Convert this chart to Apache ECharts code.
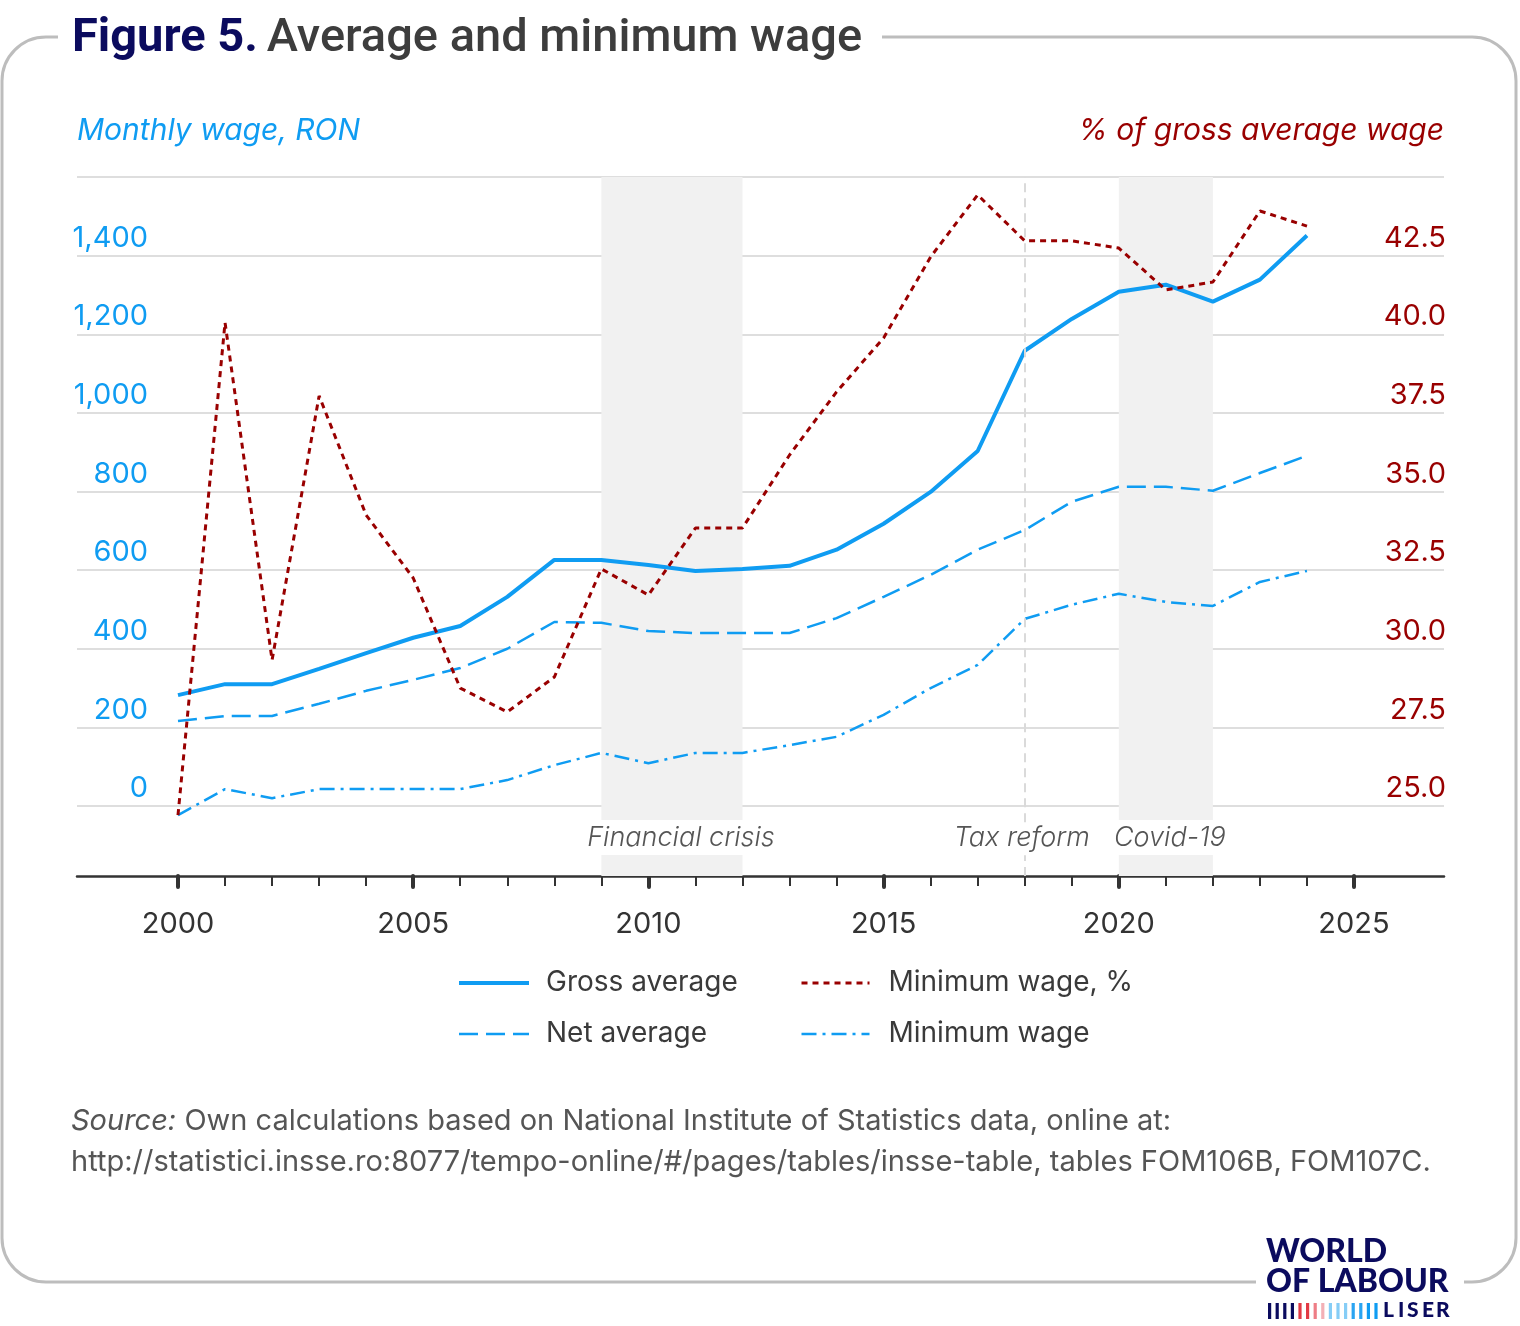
<!DOCTYPE html>
<html><head><meta charset="utf-8">
<script src="https://cdn.jsdelivr.net/npm/echarts@6/dist/echarts.min.js"></script>
<style>html,body{margin:0;padding:0;background:#fff}#c{width:1520px;height:1326px}</style>
</head><body><div id="c"></div>
<script>
// ---------- DATA ----------
const years = [2000,2001,2002,2003,2004,2005,2006,2007,2008,2009,2010,2011,2012,2013,2014,2015,2016,2017,2018,2019,2020,2021,2022,2023,2024];
const grossAverage = [282,310,310,349,389,428,458,532,626,626,613,598,603,611,652,718,799,903,1158,1239,1308,1326,1283,1339,1451];
const netAverage = [216,229,229,260,293,321,351,400,468,466,445,440,440,440,478,532,588,652,702,774,812,812,802,847,891];
const minimumWage = [-23,43,20,43,43,43,43,66,104,135,109,135,135,155,176,232,300,359,476,512,540,519,509,570,598];
const minimumWagePct = [24.71,40.37,29.64,38.04,34.25,32.25,28.75,27.99,29.10,32.54,31.71,33.84,33.84,36.16,38.17,39.88,42.46,44.43,42.97,42.97,42.74,41.41,41.66,43.92,43.44];

const leftGridValues = [0,200,400,600,800,1000,1200,1400,1600];
const leftLabelValues = [0,200,400,600,800,1000,1200,1400];
const rightLabelValues = [25,27.5,30,32.5,35,37.5,40,42.5];
const majorYears = [2000,2005,2010,2015,2020,2025];
const minorYears = [2001,2002,2003,2004,2006,2007,2008,2009,2011,2012,2013,2014,2016,2017,2018,2019,2021,2022,2023,2024];

const shadedPeriods = [
  {name:'Financial crisis', from:2009, to:2012},
  {name:'Covid-19', from:2020, to:2022}
];
const taxReform = {name:'Tax reform', year:2018};

// ---------- STYLE ----------
const BLUE = '#0f9cf2';
const RED = '#990000';
const FONT = 'Inter';
const X_MIN = 1997.853, X_MAX = 2026.913;
const YL_MIN = -178, YL_MAX = 1600;
const YR_MIN = 25 + YL_MIN/80, YR_MAX = 25 + YL_MAX/80;

const STY = {
  'Gross average': {color:BLUE, width:4, type:'solid'},
  'Net average': {color:BLUE, width:2.5, type:[19,8]},
  'Minimum wage': {color:BLUE, width:2.5, type:[15,6,3,6]},
  'Minimum wage, %': {color:RED, width:3, type:[6,5]}
};

const chart = echarts.init(document.getElementById('c'), null, {renderer:'canvas'});

const pairs = arr => years.map((y,i)=>[y, arr[i]]);

const annotLabel = {
  show:true, position:'insideBottom', distance:21,
  color:'#555', fontFamily:FONT, fontStyle:'italic', fontWeight:300, fontSize:27,
  lineHeight:33, backgroundColor:'#fff', padding:[1,4]
};

const legendItem = n => ({name:n, itemStyle:{opacity:0}, lineStyle:Object.assign({}, STY[n])});

// logo bars
const barColors = ['#0b0b5e','#0b0b5e','#0b0b5e','#0b0b5e','#e23a44','#e23a44','#ee7d86','#f3b0b6','#86cdf6','#86cdf6','#86cdf6','#2aa4f2','#2aa4f2','#0f9cf2','#0f9cf2'];
const logoBars = barColors.map((c,i)=>({type:'rect', shape:{x:1268+i*7.6, y:1303, width:3.2, height:16}, style:{fill:c}}));
const liserX = [1383,1398,1407,1422,1436];
const liser = ['L','I','S','E','R'].map((ch,i)=>({type:'text', left:liserX[i], top:1300, style:{text:ch, font:'900 21px Lato', fill:'#0b0b5e'}}));

const option = {
  animation:false,
  backgroundColor:'#fff',
  grid:{left:77, right:76, top:177, bottom:450, containLabel:false},
  title:[
    {text:'Monthly wage, RON', left:72, top:111, textStyle:{color:BLUE, fontFamily:FONT, fontStyle:'italic', fontWeight:400, fontSize:30}},
    {text:'% of gross average wage', right:71, top:111, textStyle:{color:RED, fontFamily:FONT, fontStyle:'italic', fontWeight:400, fontSize:30}}
  ],
  legend:[
    {orient:'vertical', left:452, top:964, itemWidth:70, itemHeight:14, itemGap:23,
     data:['Gross average','Net average'].map(legendItem),
     textStyle:{fontFamily:FONT, fontSize:28, color:'#3a3a3a', padding:[0,0,0,12]}},
    {orient:'vertical', left:795, top:964, itemWidth:68, itemHeight:14, itemGap:23,
     data:['Minimum wage, %','Minimum wage'].map(legendItem),
     textStyle:{fontFamily:FONT, fontSize:28, color:'#3a3a3a', padding:[0,0,0,14]}}
  ],
  xAxis:[
    {type:'value', min:X_MIN, max:X_MAX, position:'bottom',
     axisLine:{show:true, onZero:false, lineStyle:{color:'#333', width:2.5}},
     axisTick:{show:true, customValues:majorYears, length:11, lineStyle:{color:'#333', width:4, cap:'round'}},
     axisLabel:{show:true, customValues:majorYears, margin:34, color:'#333', fontFamily:FONT, fontSize:29, formatter:v=>String(Math.round(v))},
     splitLine:{show:false}},
    {type:'value', min:X_MIN, max:X_MAX, position:'bottom',
     axisLine:{show:false, onZero:false},
     axisTick:{show:true, customValues:minorYears, length:10, lineStyle:{color:'#333', width:2}},
     axisLabel:{show:false},
     splitLine:{show:false}}
  ],
  yAxis:[
    {type:'value', min:YL_MIN, max:YL_MAX, position:'left',
     axisLine:{show:false},
     axisTick:{show:false, customValues:leftGridValues},
     splitLine:{show:true, lineStyle:{color:'#dedede', width:2}},
     axisLabel:{show:true, customValues:leftLabelValues, inside:true, margin:71, align:'right', verticalAlign:'bottom',
       padding:[0,0,3,0], color:BLUE, fontFamily:FONT, fontSize:29, formatter:v=>Math.round(v).toLocaleString('en-US')}},
    {type:'value', min:YR_MIN, max:YR_MAX, position:'right',
     axisLine:{show:false},
     axisTick:{show:false, customValues:rightLabelValues},
     splitLine:{show:false},
     axisLabel:{show:true, customValues:rightLabelValues, inside:true, margin:-2, align:'right', verticalAlign:'bottom',
       padding:[0,0,3,0], color:RED, fontFamily:FONT, fontSize:29, formatter:v=>v.toFixed(1)}}
  ],
  series:[
    {name:'Gross average', type:'line', xAxisIndex:0, yAxisIndex:0, data:pairs(grossAverage), symbol:'none', z:4,
     lineStyle:STY['Gross average'], itemStyle:{color:BLUE},
     markArea:{silent:true, itemStyle:{color:'#f1f1f1'}, label:annotLabel,
       data: shadedPeriods.map((p,i)=>[{name:p.name, xAxis:p.from, label:{offset:[i===0?9:4,0]}}, {xAxis:p.to}])
         .concat([[{name:taxReform.name, xAxis:taxReform.year, label:{offset:[-3,0]}, itemStyle:{color:'rgba(0,0,0,0)'}}, {xAxis:taxReform.year}]])},
     markLine:{silent:true, symbol:'none', label:{show:false},
       lineStyle:{color:'#dadada', width:2, type:[9,6]},
       data:[
         [{coord:[taxReform.year, YL_MIN]}, {coord:[taxReform.year, -125]}],
         [{coord:[taxReform.year, -41]}, {coord:[taxReform.year, YL_MAX]}]
       ]}},
    {name:'Net average', type:'line', yAxisIndex:0, data:pairs(netAverage), symbol:'none', z:3,
     lineStyle:STY['Net average'], itemStyle:{color:BLUE}},
    {name:'Minimum wage', type:'line', yAxisIndex:0, data:pairs(minimumWage), symbol:'none', z:3,
     lineStyle:STY['Minimum wage'], itemStyle:{color:BLUE}},
    {name:'Minimum wage, %', type:'line', yAxisIndex:1, data:pairs(minimumWagePct), symbol:'none', z:5,
     lineStyle:STY['Minimum wage, %'], itemStyle:{color:RED}}
  ],
  graphic:[
    {type:'rect', z:-10, shape:{x:2, y:37, width:1514, height:1245, r:44}, style:{fill:'none', stroke:'#bdbdbd', lineWidth:3}},
    {type:'rect', z:-5, shape:{x:58, y:20, width:824, height:40}, style:{fill:'#fff'}},
    {type:'rect', z:-5, shape:{x:1256, y:1265, width:208, height:35}, style:{fill:'#fff'}},
    {type:'text', z:10, left:72, top:16, style:{
      text:'{a|Figure 5.}{b|Average and minimum wage}',
      rich:{a:{font:'bold 47px Roboto', fill:'#0b0b5e'}, b:{font:'500 47px Roboto', fill:'#3d3d3d', padding:[0,0,0,9]}}}},
    {type:'text', z:10, left:71, top:1107, style:{
      text:'{i|Source:} Own calculations based on National Institute of Statistics data, online at:',
      font:'29px Inter', fill:'#555', rich:{i:{font:'italic 29px Inter', fill:'#555'}}}},
    {type:'text', z:10, left:71, top:1148, style:{
      text:'http://statistici.insse.ro:8077/tempo-online/#/pages/tables/insse-table, tables FOM106B, FOM107C.',
      font:'29px Inter', fill:'#555'}},
    {type:'text', z:10, left:1266, top:1236, style:{text:'WORLD', font:'900 32px Lato', fill:'#0b0b5e'}},
    {type:'text', z:10, left:1266, top:1266, style:{text:'OF LABOUR', font:'900 32px Lato', fill:'#0b0b5e'}},
    {type:'group', z:10, children: logoBars.concat(liser)}
  ]
};
chart.setOption(option);
</script></body></html>
